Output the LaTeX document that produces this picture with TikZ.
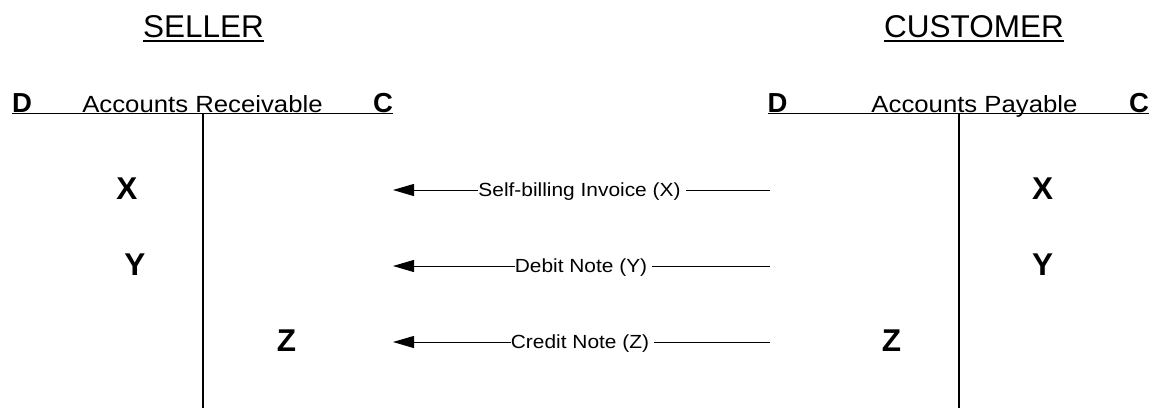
\documentclass[tikz,border=0pt]{standalone}
\usepackage{fontspec}
\setmainfont{Liberation Sans}
\newfontfamily\wide[FakeStretch=1.1]{Liberation Sans}
\usetikzlibrary{arrows.meta}
\tikzset{
  hdr/.style={inner sep=0pt, anchor=base, font=\fontsize{31.5}{34}\selectfont},
  acct/.style={inner sep=0pt, anchor=base, font=\wide\fontsize{23.4}{26}\selectfont},
  dc/.style={inner sep=0pt, anchor=base, font=\bfseries\fontsize{27.5}{30}\selectfont},
  ent/.style={inner sep=0pt, anchor=base, font=\bfseries\fontsize{31.5}{34}\selectfont},
  lbl/.style={inner sep=0pt, anchor=base, font=\wide\fontsize{19}{22}\selectfont},
  tline/.style={line width=1.4pt},
  conn/.style={line width=0.9pt},
  arr/.style={line width=0.9pt, -{Triangle[length=21pt,width=12pt]}}
}
\begin{document}
\begin{tikzpicture}[x=1pt,y=-1pt]
\useasboundingbox (0,0) rectangle (1154,408);
% headers
\node[hdr] (sel) at (203.5,37) {SELLER};
\draw[line width=1.6pt] ([yshift=-4pt]sel.base west) -- ([yshift=-4pt]sel.base east);
\node[hdr] (cus) at (974,37) {CUSTOMER};
\draw[line width=1.6pt] ([yshift=-4pt]cus.base west) -- ([yshift=-4pt]cus.base east);
% seller T account
\node[dc] (d1) at (22,112) {D};
\node[acct] (ar) at (202.5,112) {Accounts Receivable};
\node[dc] (c1) at (383,112) {C};
\coordinate (h1l) at (12,113.5);
\coordinate (h1r) at (393,113.5);
\coordinate (v1t) at (203,113.5);
\coordinate (v1b) at (203,408);
\draw[tline] (h1l) -- (h1r);
\draw[tline] (v1t) -- (v1b);
% customer T account
\node[dc] (d2) at (777.5,112) {D};
\node[acct] (ap) at (974.5,112) {Accounts Payable};
\node[dc] (c2) at (1139,112) {C};
\coordinate (h2l) at (768,113.5);
\coordinate (h2r) at (1149,113.5);
\coordinate (v2t) at (959,113.5);
\coordinate (v2b) at (959,408);
\draw[tline] (h2l) -- (h2r);
\draw[tline] (v2t) -- (v2b);
% entries
\node[ent] (sx) at (127,199) {X};
\node[ent] (sy) at (135,275) {Y};
\node[ent] (sz) at (286.5,351) {Z};
\node[ent] (cx) at (1042.5,199) {X};
\node[ent] (cy) at (1042.5,275) {Y};
\node[ent] (cz) at (891.5,351) {Z};
% arrows
\coordinate (s1) at (770,190); \coordinate (e1) at (393,190);
\coordinate (s2) at (770,266); \coordinate (e2) at (393,266);
\coordinate (s3) at (770,342); \coordinate (e3) at (393,342);
\node[lbl] (l1) at (579.5,196.8) {Self-billing Invoice (X)};
\node[lbl] (l2) at (581,272.8) {Debit Note (Y)};
\node[lbl] (l3) at (580,348.8) {Credit Note (Z)};
\draw[conn] (s1) -- ([xshift=5pt]l1.east |- s1);
\draw[arr] (l1.west |- e1) -- (e1);
\draw[conn] (s2) -- ([xshift=5pt]l2.east |- s2);
\draw[arr] (l2.west |- e2) -- (e2);
\draw[conn] (s3) -- ([xshift=5pt]l3.east |- s3);
\draw[arr] (l3.west |- e3) -- (e3);
\end{tikzpicture}
\end{document}
